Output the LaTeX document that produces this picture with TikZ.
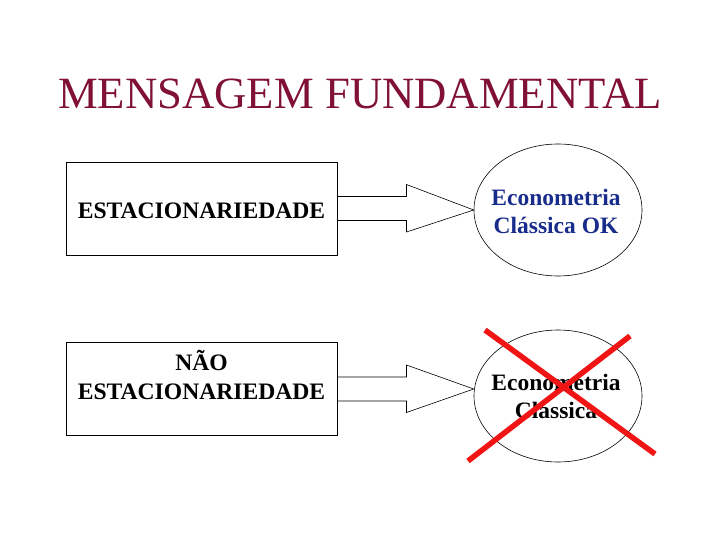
\documentclass[tikz,border=0pt]{standalone}
\usepackage{fontspec}
\setmainfont{Liberation Serif}
\usetikzlibrary{shapes.geometric,calc}
\definecolor{titlered}{RGB}{128,16,52}
\definecolor{ellblue}{RGB}{24,44,140}
\definecolor{xred}{RGB}{240,20,20}
\begin{document}
\begin{tikzpicture}[x=1pt,y=-1pt,
  box/.style={draw,line width=0.9pt,minimum width=271pt,minimum height=93pt,inner sep=0pt},
  boxtext/.style={align=center,inner sep=0pt,font=\fontsize{23.6}{29}\selectfont\bfseries},
  ell/.style={draw,ellipse,line width=0.6pt,minimum width=168pt,minimum height=132pt,inner sep=0pt},
  elltext/.style={align=center,inner sep=0pt,font=\fontsize{23.5}{28}\selectfont\bfseries},
  blockarrow/.style={draw,line width=0.6pt},
  cross/.style={draw=xred,line width=5.5pt}]
\useasboundingbox (0,0) rectangle (720,540);
\node[anchor=base,text=titlered,font=\fontsize{44.7}{50}\selectfont] (title) at (360,109) {MENSAGEM FUNDAMENTAL};
\node[box] (b1) at (201.5,208.5) {};
\node[box] (b2) at (201.5,389) {};
\node[boxtext] (t1) at (201.5,211) {ESTACIONARIEDADE};
\node[boxtext] (t2) at (201.5,375) {NÃO\\ESTACIONARIEDADE};
\node[ell] (e1) at (558,210) {};
\node[ell] (e2) at (558,396) {};
\node[elltext,text=ellblue] (u1) at (556,211) {Econometria\\Clássica OK};
\node[elltext] (u2) at (556,396) {Econometria\\Clássica};
\draw[blockarrow] ($(b1.east)+(0,-12)$) -- ++(69,0) -- ++(0,-12) -- (e1.west) -- ($(b1.east)+(69,23.5)$) -- ++(0,-11.5) -- ($(b1.east)+(0,12)$);
\draw[blockarrow] ($(b2.east)+(0,-12)$) -- ++(69,0) -- ++(0,-12) -- ($(e2.west)+(0,-7)$) -- ($(b2.east)+(69,23.5)$) -- ++(0,-11.5) -- ($(b2.east)+(0,12)$);
\coordinate (x1a) at (468,461);
\coordinate (x1b) at (630,336);
\coordinate (x2a) at (485,330);
\coordinate (x2b) at (655,454);
\draw[cross] (x1a) -- (x1b);
\draw[cross] (x2a) -- (x2b);
\end{tikzpicture}
\end{document}
